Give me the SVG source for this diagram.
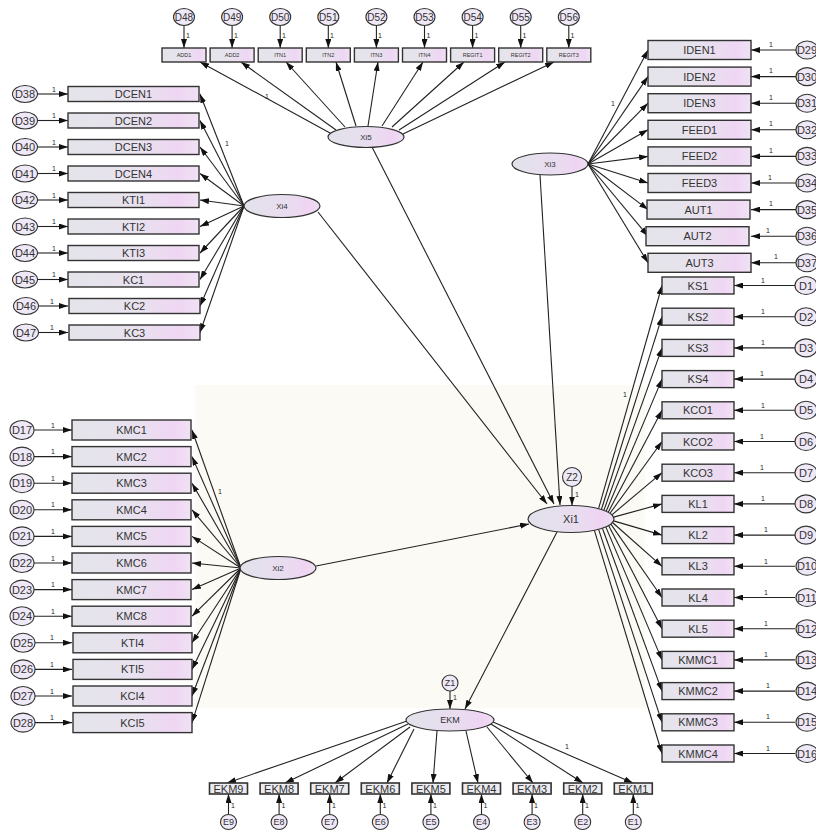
<svg xmlns="http://www.w3.org/2000/svg" width="816" height="832" viewBox="0 0 816 832">
<defs>
<linearGradient id="bg" x1="0" y1="0" x2="1" y2="0">
<stop offset="0" stop-color="#e4e4ea"/><stop offset="0.5" stop-color="#e8e2ee"/><stop offset="0.85" stop-color="#efd6f3"/><stop offset="1" stop-color="#f0e2f4"/>
</linearGradient>
<linearGradient id="eg" x1="0" y1="0" x2="1" y2="0">
<stop offset="0" stop-color="#e2e2ea"/><stop offset="0.6" stop-color="#e9dcf0"/><stop offset="0.85" stop-color="#efd4f3"/><stop offset="1" stop-color="#ecdff2"/>
</linearGradient>
<marker id="ah" viewBox="0 0 10 10" refX="10" refY="5" markerWidth="9" markerHeight="6" orient="auto" markerUnits="userSpaceOnUse" preserveAspectRatio="none">
<path d="M0,0 L10,5 L0,10 z" fill="#111"/>
</marker>
<style>
.box{fill:url(#bg);stroke:#333;stroke-width:1.4}
.ebox{fill:#ececf0;stroke:#333;stroke-width:1.6}
.lv{fill:url(#eg);stroke:#333;stroke-width:1.2}
.err{fill:#efe8f6;stroke:#333;stroke-width:1.1}
text{font-family:"Liberation Sans",Arial,sans-serif;fill:#333;text-anchor:middle;dominant-baseline:central}
.t11{font-size:11px}
.t10{font-size:10px}
.t9{font-size:9px}
.t8{font-size:8px}
.t6{font-size:5.5px}
.one{font-size:7px;fill:#222}
#connectors line{stroke:#222;stroke-width:1.1;marker-end:url(#ah)}
</style>
</defs>
<rect width="816" height="832" fill="#ffffff"/>
<rect x="195" y="385" width="450" height="323" fill="#fcfaf5"/>

<g id="connectors">
<line x1="38" y1="94" x2="68" y2="94"/><line x1="38" y1="120.5" x2="68" y2="120.5"/><line x1="38" y1="147" x2="68" y2="147"/><line x1="38" y1="173.5" x2="68" y2="173.5"/><line x1="38" y1="200" x2="68" y2="200"/><line x1="38" y1="226.5" x2="68" y2="226.5"/><line x1="38" y1="253" x2="68" y2="253"/><line x1="38" y1="279.5" x2="68" y2="279.5"/><line x1="38" y1="306" x2="68" y2="306"/><line x1="38" y1="332.5" x2="68" y2="332.5"/>
<line x1="244" y1="206" x2="200" y2="94"/><line x1="244" y1="206" x2="200" y2="120.5"/><line x1="244" y1="206" x2="200" y2="147"/><line x1="244" y1="206" x2="200" y2="173.5"/><line x1="244" y1="206" x2="200" y2="200"/><line x1="244" y1="206" x2="200" y2="226.5"/><line x1="244" y1="206" x2="200" y2="253"/><line x1="244" y1="206" x2="200" y2="279.5"/><line x1="244" y1="206" x2="200" y2="306"/><line x1="244" y1="206" x2="200" y2="332.5"/>
<line x1="34" y1="430" x2="72" y2="430"/><line x1="34" y1="456.6" x2="72" y2="456.6"/><line x1="34" y1="483.2" x2="72" y2="483.2"/><line x1="34" y1="509.8" x2="72" y2="509.8"/><line x1="34" y1="536.4" x2="72" y2="536.4"/><line x1="34" y1="563" x2="72" y2="563"/><line x1="34" y1="589.6" x2="72" y2="589.6"/><line x1="34" y1="616.2" x2="72" y2="616.2"/><line x1="34" y1="642.8" x2="72" y2="642.8"/><line x1="34" y1="669.4" x2="72" y2="669.4"/><line x1="34" y1="696" x2="72" y2="696"/><line x1="34" y1="722.6" x2="72" y2="722.6"/>
<line x1="241" y1="568" x2="192" y2="430"/><line x1="241" y1="568" x2="192" y2="456.6"/><line x1="241" y1="568" x2="192" y2="483.2"/><line x1="241" y1="568" x2="192" y2="509.8"/><line x1="241" y1="568" x2="192" y2="536.4"/><line x1="241" y1="568" x2="192" y2="563"/><line x1="241" y1="568" x2="192" y2="589.6"/><line x1="241" y1="568" x2="192" y2="616.2"/><line x1="241" y1="568" x2="192" y2="642.8"/><line x1="241" y1="568" x2="192" y2="669.4"/><line x1="241" y1="568" x2="192" y2="696"/><line x1="241" y1="568" x2="192" y2="722.6"/>
<line x1="796" y1="50" x2="751" y2="50"/><line x1="796" y1="76.6" x2="751" y2="76.6"/><line x1="796" y1="103.2" x2="751" y2="103.2"/><line x1="796" y1="129.8" x2="751" y2="129.8"/><line x1="796" y1="156.4" x2="751" y2="156.4"/><line x1="796" y1="183" x2="751" y2="183"/><line x1="796" y1="209.6" x2="751" y2="209.6"/><line x1="796" y1="236.2" x2="751" y2="236.2"/><line x1="796" y1="262.8" x2="751" y2="262.8"/>
<line x1="588" y1="164" x2="648" y2="50"/><line x1="588" y1="164" x2="648" y2="76.6"/><line x1="588" y1="164" x2="648" y2="103.2"/><line x1="588" y1="164" x2="648" y2="129.8"/><line x1="588" y1="164" x2="648" y2="156.4"/><line x1="588" y1="164" x2="648" y2="183"/><line x1="588" y1="164" x2="648" y2="209.6"/><line x1="588" y1="164" x2="648" y2="236.2"/><line x1="588" y1="164" x2="648" y2="262.8"/>
<line x1="795" y1="285.5" x2="734" y2="285.5"/><line x1="795" y1="316.7" x2="734" y2="316.7"/><line x1="795" y1="347.9" x2="734" y2="347.9"/><line x1="795" y1="379.1" x2="734" y2="379.1"/><line x1="795" y1="410.3" x2="734" y2="410.3"/><line x1="795" y1="441.5" x2="734" y2="441.5"/><line x1="795" y1="472.7" x2="734" y2="472.7"/><line x1="795" y1="503.9" x2="734" y2="503.9"/><line x1="795" y1="535.1" x2="734" y2="535.1"/><line x1="795" y1="566.3" x2="734" y2="566.3"/><line x1="795" y1="597.5" x2="734" y2="597.5"/><line x1="795" y1="628.7" x2="734" y2="628.7"/><line x1="795" y1="659.9" x2="734" y2="659.9"/><line x1="795" y1="691.1" x2="734" y2="691.1"/><line x1="795" y1="722.3" x2="734" y2="722.3"/><line x1="795" y1="753.5" x2="734" y2="753.5"/>
<line x1="598.6" y1="508.7" x2="662" y2="285.5"/><line x1="601.4" y1="509.5" x2="662" y2="316.7"/><line x1="603.9" y1="510.3" x2="662" y2="347.9"/><line x1="606.2" y1="511.3" x2="662" y2="379.1"/><line x1="608.2" y1="512.3" x2="662" y2="410.3"/><line x1="610" y1="513.3" x2="662" y2="441.5"/><line x1="611.9" y1="514.8" x2="662" y2="472.7"/><line x1="613.6" y1="517.1" x2="662" y2="503.9"/><line x1="613.6" y1="520.9" x2="662" y2="535.1"/><line x1="612.5" y1="522.5" x2="662" y2="566.3"/><line x1="610.9" y1="524.1" x2="662" y2="597.5"/><line x1="608.6" y1="525.5" x2="662" y2="628.7"/><line x1="605.8" y1="526.9" x2="662" y2="659.9"/><line x1="602.4" y1="528.2" x2="662" y2="691.1"/><line x1="598.6" y1="529.3" x2="662" y2="722.3"/><line x1="594.4" y1="530.3" x2="662" y2="753.5"/>
<line x1="184" y1="25.5" x2="184" y2="48"/><line x1="232.1" y1="25.5" x2="232.1" y2="48"/><line x1="280.2" y1="25.5" x2="280.2" y2="48"/><line x1="328.3" y1="25.5" x2="328.3" y2="48"/><line x1="376.4" y1="25.5" x2="376.4" y2="48"/><line x1="424.5" y1="25.5" x2="424.5" y2="48"/><line x1="472.6" y1="25.5" x2="472.6" y2="48"/><line x1="520.7" y1="25.5" x2="520.7" y2="48"/><line x1="568.8" y1="25.5" x2="568.8" y2="48"/>
<line x1="330" y1="133" x2="200" y2="62"/><line x1="336" y1="130" x2="241" y2="62"/><line x1="345" y1="127" x2="286" y2="62"/><line x1="356" y1="126" x2="336" y2="62"/><line x1="368" y1="126" x2="378" y2="62"/><line x1="382" y1="126" x2="423" y2="62"/><line x1="392" y1="127" x2="464" y2="62"/><line x1="399" y1="130" x2="505" y2="62"/><line x1="403" y1="134" x2="554" y2="62"/>
<line x1="318" y1="212" x2="547" y2="504"/>
<line x1="372" y1="147" x2="554" y2="504"/>
<line x1="540" y1="175" x2="560" y2="505"/>
<line x1="316" y1="566" x2="529" y2="524"/>
<line x1="572" y1="487" x2="572" y2="505.5"/>
<line x1="557" y1="532" x2="465" y2="709"/>
<line x1="450" y1="691" x2="450" y2="709"/>
<line x1="407" y1="721" x2="227" y2="783"/><line x1="408" y1="724" x2="285" y2="783"/><line x1="410" y1="727" x2="335" y2="783"/><line x1="414" y1="729" x2="387" y2="783"/><line x1="437" y1="731" x2="433" y2="783"/><line x1="466" y1="731" x2="478" y2="783"/><line x1="487" y1="727" x2="533" y2="783"/><line x1="491" y1="724" x2="583" y2="783"/><line x1="493" y1="722" x2="633" y2="783"/>
<line x1="228.5" y1="814.5" x2="228.5" y2="794"/><line x1="279.1" y1="814.5" x2="279.1" y2="794"/><line x1="329.7" y1="814.5" x2="329.7" y2="794"/><line x1="380.3" y1="814.5" x2="380.3" y2="794"/><line x1="430.9" y1="814.5" x2="430.9" y2="794"/><line x1="481.5" y1="814.5" x2="481.5" y2="794"/><line x1="532.1" y1="814.5" x2="532.1" y2="794"/><line x1="582.7" y1="814.5" x2="582.7" y2="794"/><line x1="633.3" y1="814.5" x2="633.3" y2="794"/>
</g>

<g id="path-labels">
<text class="one" x="54" y="89">1</text><text class="one" x="54" y="115.5">1</text><text class="one" x="54" y="142">1</text><text class="one" x="54" y="168.5">1</text><text class="one" x="54" y="195">1</text><text class="one" x="54" y="221.5">1</text><text class="one" x="54" y="248">1</text><text class="one" x="54" y="274.5">1</text><text class="one" x="52" y="301">1</text><text class="one" x="52" y="327.5">1</text>
<text class="one" x="53" y="425">1</text><text class="one" x="53" y="451.6">1</text><text class="one" x="53" y="478.2">1</text><text class="one" x="53" y="504.8">1</text><text class="one" x="53" y="531.4">1</text><text class="one" x="53" y="558">1</text><text class="one" x="53" y="584.6">1</text><text class="one" x="53" y="611.2">1</text><text class="one" x="52" y="637.8">1</text><text class="one" x="52" y="664.4">1</text><text class="one" x="52" y="691">1</text><text class="one" x="52" y="717.6">1</text>
<text class="one" x="771" y="44">1</text><text class="one" x="771" y="70.6">1</text><text class="one" x="771" y="97.2">1</text><text class="one" x="771" y="123.8">1</text><text class="one" x="771" y="150.4">1</text><text class="one" x="770" y="177">1</text><text class="one" x="771" y="203.6">1</text><text class="one" x="768" y="230.2">1</text><text class="one" x="776" y="256.8">1</text>
<text class="one" x="763" y="280">1</text><text class="one" x="763" y="311">1</text><text class="one" x="763" y="342">1</text><text class="one" x="762" y="373.5">1</text><text class="one" x="763" y="405">1</text><text class="one" x="762" y="436">1</text><text class="one" x="762" y="467">1</text><text class="one" x="763" y="498.5">1</text><text class="one" x="766" y="529.5">1</text><text class="one" x="766" y="561">1</text><text class="one" x="766" y="592">1</text><text class="one" x="766" y="623">1</text><text class="one" x="766" y="654.5">1</text><text class="one" x="768" y="685.5">1</text><text class="one" x="768" y="716.5">1</text><text class="one" x="768" y="748">1</text>
<text class="one" x="188" y="35">1</text><text class="one" x="236" y="35">1</text><text class="one" x="284" y="35">1</text><text class="one" x="332" y="35">1</text><text class="one" x="380" y="35">1</text><text class="one" x="428.5" y="35">1</text><text class="one" x="476.5" y="35">1</text><text class="one" x="524.5" y="35">1</text><text class="one" x="572.5" y="35">1</text>
<text class="one" x="233" y="805">1</text><text class="one" x="283.5" y="805">1</text><text class="one" x="334" y="805">1</text><text class="one" x="384.5" y="805">1</text><text class="one" x="435" y="805">1</text><text class="one" x="485.5" y="805">1</text><text class="one" x="536" y="805">1</text><text class="one" x="587" y="805">1</text><text class="one" x="637.5" y="805">1</text>
<text class="one" x="267" y="96">1</text><text class="one" x="227" y="143">1</text><text class="one" x="613" y="103">1</text><text class="one" x="625" y="394">1</text><text class="one" x="220" y="491">1</text><text class="one" x="567" y="746">1</text><text class="one" x="577" y="494">1</text><text class="one" x="455" y="697">1</text>
</g>

<g id="Xi4"><ellipse class="lv" cx="282" cy="206" rx="38" ry="11.5"/><text class="t8" x="282" y="206">Xi4</text></g>
<g id="Xi5"><ellipse class="lv" cx="366" cy="137" rx="38" ry="10.5"/><text class="t8" x="366" y="137">Xi5</text></g>
<g id="Xi3"><ellipse class="lv" cx="550" cy="164" rx="38" ry="11"/><text class="t8" x="550" y="164">Xi3</text></g>
<g id="Xi2"><ellipse class="lv" cx="278" cy="568" rx="38" ry="11.5"/><text class="t8" x="278" y="568">Xi2</text></g>
<g id="Xi1"><ellipse class="lv" cx="571" cy="519" rx="43" ry="13.5"/><text class="t11" x="571" y="519">Xi1</text></g>
<g id="EKM"><ellipse class="lv" cx="450" cy="720" rx="44" ry="11"/><text class="t9" x="450" y="720">EKM</text></g>
<g id="Z2"><circle class="err" cx="572" cy="477" r="9.5"/><text class="t10" x="572" y="477">Z2</text></g>
<g id="Z1"><circle class="err" cx="450" cy="683" r="8"/><text class="t9" x="450" y="683">Z1</text></g>

<g id="xi4-items">
<g id="DCEN1"><rect class="box" x="68" y="86.5" width="131" height="15"/><text class="t11" x="133.5" y="94">DCEN1</text></g>
<g id="DCEN2"><rect class="box" x="68" y="113" width="131" height="15"/><text class="t11" x="133.5" y="120.5">DCEN2</text></g>
<g id="DCEN3"><rect class="box" x="68" y="139.5" width="131" height="15"/><text class="t11" x="133.5" y="147">DCEN3</text></g>
<g id="DCEN4"><rect class="box" x="68" y="166" width="131" height="15"/><text class="t11" x="133.5" y="173.5">DCEN4</text></g>
<g id="KTI1"><rect class="box" x="68" y="192.5" width="131" height="15"/><text class="t11" x="133.5" y="200">KTI1</text></g>
<g id="KTI2"><rect class="box" x="68" y="219" width="131" height="15"/><text class="t11" x="133.5" y="226.5">KTI2</text></g>
<g id="KTI3"><rect class="box" x="68" y="245.5" width="131" height="15"/><text class="t11" x="133.5" y="253">KTI3</text></g>
<g id="KC1"><rect class="box" x="68" y="272" width="131" height="15"/><text class="t11" x="133.5" y="279.5">KC1</text></g>
<g id="KC2"><rect class="box" x="69" y="298.5" width="131" height="15"/><text class="t11" x="134.5" y="306">KC2</text></g>
<g id="KC3"><rect class="box" x="69" y="325" width="131" height="15"/><text class="t11" x="134.5" y="332.5">KC3</text></g>
</g>
<g id="xi4-errors">
<g id="D38"><ellipse class="err" cx="25" cy="94" rx="12.5" ry="8.5"/><text class="t11" x="25" y="94">D38</text></g>
<g id="D39"><ellipse class="err" cx="25" cy="120.5" rx="12.5" ry="8.5"/><text class="t11" x="25" y="120.5">D39</text></g>
<g id="D40"><ellipse class="err" cx="25" cy="147" rx="12.5" ry="8.5"/><text class="t11" x="25" y="147">D40</text></g>
<g id="D41"><ellipse class="err" cx="25" cy="173.5" rx="12.5" ry="8.5"/><text class="t11" x="25" y="173.5">D41</text></g>
<g id="D42"><ellipse class="err" cx="25" cy="200" rx="12.5" ry="8.5"/><text class="t11" x="25" y="200">D42</text></g>
<g id="D43"><ellipse class="err" cx="25" cy="226.5" rx="12.5" ry="8.5"/><text class="t11" x="25" y="226.5">D43</text></g>
<g id="D44"><ellipse class="err" cx="25" cy="253" rx="12.5" ry="8.5"/><text class="t11" x="25" y="253">D44</text></g>
<g id="D45"><ellipse class="err" cx="25" cy="279.5" rx="12.5" ry="8.5"/><text class="t11" x="25" y="279.5">D45</text></g>
<g id="D46"><ellipse class="err" cx="26" cy="306" rx="12.5" ry="8.5"/><text class="t11" x="26" y="306">D46</text></g>
<g id="D47"><ellipse class="err" cx="26" cy="332.5" rx="12.5" ry="8.5"/><text class="t11" x="26" y="332.5">D47</text></g>
</g>

<g id="xi2-items">
<g id="KMC1"><rect class="box" x="72" y="420" width="119" height="20"/><text class="t11" x="131.5" y="430">KMC1</text></g>
<g id="KMC2"><rect class="box" x="72" y="446.6" width="119" height="20"/><text class="t11" x="131.5" y="456.6">KMC2</text></g>
<g id="KMC3"><rect class="box" x="72" y="473.2" width="119" height="20"/><text class="t11" x="131.5" y="483.2">KMC3</text></g>
<g id="KMC4"><rect class="box" x="72" y="499.8" width="119" height="20"/><text class="t11" x="131.5" y="509.8">KMC4</text></g>
<g id="KMC5"><rect class="box" x="72" y="526.4" width="119" height="20"/><text class="t11" x="131.5" y="536.4">KMC5</text></g>
<g id="KMC6"><rect class="box" x="72" y="553" width="119" height="20"/><text class="t11" x="131.5" y="563">KMC6</text></g>
<g id="KMC7"><rect class="box" x="72" y="579.6" width="119" height="20"/><text class="t11" x="131.5" y="589.6">KMC7</text></g>
<g id="KMC8"><rect class="box" x="72" y="606.2" width="119" height="20"/><text class="t11" x="131.5" y="616.2">KMC8</text></g>
<g id="KTI4"><rect class="box" x="73" y="632.8" width="119" height="20"/><text class="t11" x="132.5" y="642.8">KTI4</text></g>
<g id="KTI5"><rect class="box" x="73" y="659.4" width="119" height="20"/><text class="t11" x="132.5" y="669.4">KTI5</text></g>
<g id="KCI4"><rect class="box" x="73" y="686" width="119" height="20"/><text class="t11" x="132.5" y="696">KCI4</text></g>
<g id="KCI5"><rect class="box" x="73" y="712.6" width="119" height="20"/><text class="t11" x="132.5" y="722.6">KCI5</text></g>
</g>
<g id="xi2-errors">
<g id="D17"><ellipse class="err" cx="22" cy="430" rx="12" ry="9.5"/><text class="t11" x="22" y="430">D17</text></g>
<g id="D18"><ellipse class="err" cx="22" cy="456.6" rx="12" ry="9.5"/><text class="t11" x="22" y="456.6">D18</text></g>
<g id="D19"><ellipse class="err" cx="22" cy="483.2" rx="12" ry="9.5"/><text class="t11" x="22" y="483.2">D19</text></g>
<g id="D20"><ellipse class="err" cx="22" cy="509.8" rx="12" ry="9.5"/><text class="t11" x="22" y="509.8">D20</text></g>
<g id="D21"><ellipse class="err" cx="22" cy="536.4" rx="12" ry="9.5"/><text class="t11" x="22" y="536.4">D21</text></g>
<g id="D22"><ellipse class="err" cx="22" cy="563" rx="12" ry="9.5"/><text class="t11" x="22" y="563">D22</text></g>
<g id="D23"><ellipse class="err" cx="22" cy="589.6" rx="12" ry="9.5"/><text class="t11" x="22" y="589.6">D23</text></g>
<g id="D24"><ellipse class="err" cx="22" cy="616.2" rx="12" ry="9.5"/><text class="t11" x="22" y="616.2">D24</text></g>
<g id="D25"><ellipse class="err" cx="23" cy="642.8" rx="12" ry="9.5"/><text class="t11" x="23" y="642.8">D25</text></g>
<g id="D26"><ellipse class="err" cx="23" cy="669.4" rx="12" ry="9.5"/><text class="t11" x="23" y="669.4">D26</text></g>
<g id="D27"><ellipse class="err" cx="23" cy="696" rx="12" ry="9.5"/><text class="t11" x="23" y="696">D27</text></g>
<g id="D28"><ellipse class="err" cx="23" cy="722.6" rx="12" ry="9.5"/><text class="t11" x="23" y="722.6">D28</text></g>
</g>

<g id="xi3-items">
<g id="IDEN1"><rect class="box" x="648" y="40.5" width="103" height="19"/><text class="t11" x="699.5" y="50">IDEN1</text></g>
<g id="IDEN2"><rect class="box" x="648" y="67.1" width="103" height="19"/><text class="t11" x="699.5" y="76.6">IDEN2</text></g>
<g id="IDEN3"><rect class="box" x="648" y="93.7" width="103" height="19"/><text class="t11" x="699.5" y="103.2">IDEN3</text></g>
<g id="FEED1"><rect class="box" x="648" y="120.3" width="103" height="19"/><text class="t11" x="699.5" y="129.8">FEED1</text></g>
<g id="FEED2"><rect class="box" x="648" y="146.9" width="103" height="19"/><text class="t11" x="699.5" y="156.4">FEED2</text></g>
<g id="FEED3"><rect class="box" x="648" y="173.5" width="103" height="19"/><text class="t11" x="699.5" y="183">FEED3</text></g>
<g id="AUT1"><rect class="box" x="647" y="200.1" width="103" height="19"/><text class="t11" x="698.5" y="209.6">AUT1</text></g>
<g id="AUT2"><rect class="box" x="646" y="226.7" width="103" height="19"/><text class="t11" x="697.5" y="236.2">AUT2</text></g>
<g id="AUT3"><rect class="box" x="648" y="253.3" width="103" height="19"/><text class="t11" x="699.5" y="262.8">AUT3</text></g>
</g>
<g id="xi3-errors">
<g id="D29"><ellipse class="err" cx="807" cy="50" rx="11" ry="9"/><text class="t11" x="807" y="50">D29</text></g>
<g id="D30"><ellipse class="err" cx="807" cy="76.6" rx="11" ry="9"/><text class="t11" x="807" y="76.6">D30</text></g>
<g id="D31"><ellipse class="err" cx="807" cy="103.2" rx="11" ry="9"/><text class="t11" x="807" y="103.2">D31</text></g>
<g id="D32"><ellipse class="err" cx="807" cy="129.8" rx="11" ry="9"/><text class="t11" x="807" y="129.8">D32</text></g>
<g id="D33"><ellipse class="err" cx="807" cy="156.4" rx="11" ry="9"/><text class="t11" x="807" y="156.4">D33</text></g>
<g id="D34"><ellipse class="err" cx="807" cy="183" rx="11" ry="9"/><text class="t11" x="807" y="183">D34</text></g>
<g id="D35"><ellipse class="err" cx="807" cy="209.6" rx="11" ry="9"/><text class="t11" x="807" y="209.6">D35</text></g>
<g id="D36"><ellipse class="err" cx="807" cy="236.2" rx="11" ry="9"/><text class="t11" x="807" y="236.2">D36</text></g>
<g id="D37"><ellipse class="err" cx="807" cy="262.8" rx="11" ry="9"/><text class="t11" x="807" y="262.8">D37</text></g>
</g>

<g id="xi1-items">
<g id="KS1"><rect class="box" x="662" y="277" width="72" height="17"/><text class="t11" x="698" y="285.5">KS1</text></g>
<g id="KS2"><rect class="box" x="662" y="308.2" width="72" height="17"/><text class="t11" x="698" y="316.7">KS2</text></g>
<g id="KS3"><rect class="box" x="662" y="339.4" width="72" height="17"/><text class="t11" x="698" y="347.9">KS3</text></g>
<g id="KS4"><rect class="box" x="662" y="370.6" width="72" height="17"/><text class="t11" x="698" y="379.1">KS4</text></g>
<g id="KCO1"><rect class="box" x="662" y="401.8" width="72" height="17"/><text class="t11" x="698" y="410.3">KCO1</text></g>
<g id="KCO2"><rect class="box" x="662" y="433" width="72" height="17"/><text class="t11" x="698" y="441.5">KCO2</text></g>
<g id="KCO3"><rect class="box" x="662" y="464.2" width="72" height="17"/><text class="t11" x="698" y="472.7">KCO3</text></g>
<g id="KL1"><rect class="box" x="662" y="495.4" width="72" height="17"/><text class="t11" x="698" y="503.9">KL1</text></g>
<g id="KL2"><rect class="box" x="662" y="526.6" width="72" height="17"/><text class="t11" x="698" y="535.1">KL2</text></g>
<g id="KL3"><rect class="box" x="662" y="557.8" width="72" height="17"/><text class="t11" x="698" y="566.3">KL3</text></g>
<g id="KL4"><rect class="box" x="662" y="589" width="72" height="17"/><text class="t11" x="698" y="597.5">KL4</text></g>
<g id="KL5"><rect class="box" x="662" y="620.2" width="72" height="17"/><text class="t11" x="698" y="628.7">KL5</text></g>
<g id="KMMC1"><rect class="box" x="662" y="651.4" width="72" height="17"/><text class="t11" x="698" y="659.9">KMMC1</text></g>
<g id="KMMC2"><rect class="box" x="662" y="682.6" width="72" height="17"/><text class="t11" x="698" y="691.1">KMMC2</text></g>
<g id="KMMC3"><rect class="box" x="662" y="713.8" width="72" height="17"/><text class="t11" x="698" y="722.3">KMMC3</text></g>
<g id="KMMC4"><rect class="box" x="662" y="745" width="72" height="17"/><text class="t11" x="698" y="753.5">KMMC4</text></g>
</g>
<g id="xi1-errors">
<g id="D1"><ellipse class="err" cx="806" cy="285.5" rx="11" ry="9"/><text class="t11" x="806" y="285.5">D1</text></g>
<g id="D2"><ellipse class="err" cx="806" cy="316.7" rx="11" ry="9"/><text class="t11" x="806" y="316.7">D2</text></g>
<g id="D3"><ellipse class="err" cx="806" cy="347.9" rx="11" ry="9"/><text class="t11" x="806" y="347.9">D3</text></g>
<g id="D4"><ellipse class="err" cx="806" cy="379.1" rx="11" ry="9"/><text class="t11" x="806" y="379.1">D4</text></g>
<g id="D5"><ellipse class="err" cx="806" cy="410.3" rx="11" ry="9"/><text class="t11" x="806" y="410.3">D5</text></g>
<g id="D6"><ellipse class="err" cx="806" cy="441.5" rx="11" ry="9"/><text class="t11" x="806" y="441.5">D6</text></g>
<g id="D7"><ellipse class="err" cx="806" cy="472.7" rx="11" ry="9"/><text class="t11" x="806" y="472.7">D7</text></g>
<g id="D8"><ellipse class="err" cx="806" cy="503.9" rx="11" ry="9"/><text class="t11" x="806" y="503.9">D8</text></g>
<g id="D9"><ellipse class="err" cx="806" cy="535.1" rx="11" ry="9"/><text class="t11" x="806" y="535.1">D9</text></g>
<g id="D10"><ellipse class="err" cx="807" cy="566.3" rx="11" ry="9"/><text class="t11" x="807" y="566.3">D10</text></g>
<g id="D11"><ellipse class="err" cx="807" cy="597.5" rx="11" ry="9"/><text class="t11" x="807" y="597.5">D11</text></g>
<g id="D12"><ellipse class="err" cx="807" cy="628.7" rx="11" ry="9"/><text class="t11" x="807" y="628.7">D12</text></g>
<g id="D13"><ellipse class="err" cx="807" cy="659.9" rx="11" ry="9"/><text class="t11" x="807" y="659.9">D13</text></g>
<g id="D14"><ellipse class="err" cx="807" cy="691.1" rx="11" ry="9"/><text class="t11" x="807" y="691.1">D14</text></g>
<g id="D15"><ellipse class="err" cx="807" cy="722.3" rx="11" ry="9"/><text class="t11" x="807" y="722.3">D15</text></g>
<g id="D16"><ellipse class="err" cx="807" cy="753.5" rx="11" ry="9"/><text class="t11" x="807" y="753.5">D16</text></g>
</g>

<g id="xi5-items">
<g id="ADD1"><rect class="box" x="162" y="48" width="44" height="14"/><text class="t6" x="184" y="55">ADD1</text></g>
<g id="ADD2"><rect class="box" x="210.1" y="48" width="44" height="14"/><text class="t6" x="232.1" y="55">ADD2</text></g>
<g id="ITN1"><rect class="box" x="258.2" y="48" width="44" height="14"/><text class="t6" x="280.2" y="55">ITN1</text></g>
<g id="ITN2"><rect class="box" x="306.3" y="48" width="44" height="14"/><text class="t6" x="328.3" y="55">ITN2</text></g>
<g id="ITN3"><rect class="box" x="354.4" y="48" width="44" height="14"/><text class="t6" x="376.4" y="55">ITN3</text></g>
<g id="ITN4"><rect class="box" x="402.5" y="48" width="44" height="14"/><text class="t6" x="424.5" y="55">ITN4</text></g>
<g id="REGIT1"><rect class="box" x="450.6" y="48" width="44" height="14"/><text class="t6" x="472.6" y="55">REGIT1</text></g>
<g id="REGIT2"><rect class="box" x="498.7" y="48" width="44" height="14"/><text class="t6" x="520.7" y="55">REGIT2</text></g>
<g id="REGIT3"><rect class="box" x="546.8" y="48" width="44" height="14"/><text class="t6" x="568.8" y="55">REGIT3</text></g>
</g>
<g id="xi5-errors">
<g id="D48"><ellipse class="err" cx="184" cy="17" rx="10.5" ry="8.5"/><text class="t10" x="184" y="17">D48</text></g>
<g id="D49"><ellipse class="err" cx="232.1" cy="17" rx="10.5" ry="8.5"/><text class="t10" x="232.1" y="17">D49</text></g>
<g id="D50"><ellipse class="err" cx="280.2" cy="17" rx="10.5" ry="8.5"/><text class="t10" x="280.2" y="17">D50</text></g>
<g id="D51"><ellipse class="err" cx="328.3" cy="17" rx="10.5" ry="8.5"/><text class="t10" x="328.3" y="17">D51</text></g>
<g id="D52"><ellipse class="err" cx="376.4" cy="17" rx="10.5" ry="8.5"/><text class="t10" x="376.4" y="17">D52</text></g>
<g id="D53"><ellipse class="err" cx="424.5" cy="17" rx="10.5" ry="8.5"/><text class="t10" x="424.5" y="17">D53</text></g>
<g id="D54"><ellipse class="err" cx="472.6" cy="17" rx="10.5" ry="8.5"/><text class="t10" x="472.6" y="17">D54</text></g>
<g id="D55"><ellipse class="err" cx="520.7" cy="17" rx="10.5" ry="8.5"/><text class="t10" x="520.7" y="17">D55</text></g>
<g id="D56"><ellipse class="err" cx="568.8" cy="17" rx="10.5" ry="8.5"/><text class="t10" x="568.8" y="17">D56</text></g>
</g>

<g id="ekm-items">
<g id="EKM9"><rect class="ebox" x="209.5" y="783" width="38" height="11"/><text class="t11" x="228.5" y="789">EKM9</text></g>
<g id="EKM8"><rect class="ebox" x="260.1" y="783" width="38" height="11"/><text class="t11" x="279.1" y="789">EKM8</text></g>
<g id="EKM7"><rect class="ebox" x="310.7" y="783" width="38" height="11"/><text class="t11" x="329.7" y="789">EKM7</text></g>
<g id="EKM6"><rect class="ebox" x="361.3" y="783" width="38" height="11"/><text class="t11" x="380.3" y="789">EKM6</text></g>
<g id="EKM5"><rect class="ebox" x="411.9" y="783" width="38" height="11"/><text class="t11" x="430.9" y="789">EKM5</text></g>
<g id="EKM4"><rect class="ebox" x="462.5" y="783" width="38" height="11"/><text class="t11" x="481.5" y="789">EKM4</text></g>
<g id="EKM3"><rect class="ebox" x="513.1" y="783" width="38" height="11"/><text class="t11" x="532.1" y="789">EKM3</text></g>
<g id="EKM2"><rect class="ebox" x="563.7" y="783" width="38" height="11"/><text class="t11" x="582.7" y="789">EKM2</text></g>
<g id="EKM1"><rect class="ebox" x="614.3" y="783" width="38" height="11"/><text class="t11" x="633.3" y="789">EKM1</text></g>
</g>
<g id="ekm-errors">
<g id="E9"><ellipse class="err" cx="228.5" cy="822" rx="8" ry="7.5"/><text class="t9" x="228.5" y="822">E9</text></g>
<g id="E8"><ellipse class="err" cx="279.1" cy="822" rx="8" ry="7.5"/><text class="t9" x="279.1" y="822">E8</text></g>
<g id="E7"><ellipse class="err" cx="329.7" cy="822" rx="8" ry="7.5"/><text class="t9" x="329.7" y="822">E7</text></g>
<g id="E6"><ellipse class="err" cx="380.3" cy="822" rx="8" ry="7.5"/><text class="t9" x="380.3" y="822">E6</text></g>
<g id="E5"><ellipse class="err" cx="430.9" cy="822" rx="8" ry="7.5"/><text class="t9" x="430.9" y="822">E5</text></g>
<g id="E4"><ellipse class="err" cx="481.5" cy="822" rx="8" ry="7.5"/><text class="t9" x="481.5" y="822">E4</text></g>
<g id="E3"><ellipse class="err" cx="532.1" cy="822" rx="8" ry="7.5"/><text class="t9" x="532.1" y="822">E3</text></g>
<g id="E2"><ellipse class="err" cx="582.7" cy="822" rx="8" ry="7.5"/><text class="t9" x="582.7" y="822">E2</text></g>
<g id="E1"><ellipse class="err" cx="633.3" cy="822" rx="8" ry="7.5"/><text class="t9" x="633.3" y="822">E1</text></g>
</g>
</svg>
